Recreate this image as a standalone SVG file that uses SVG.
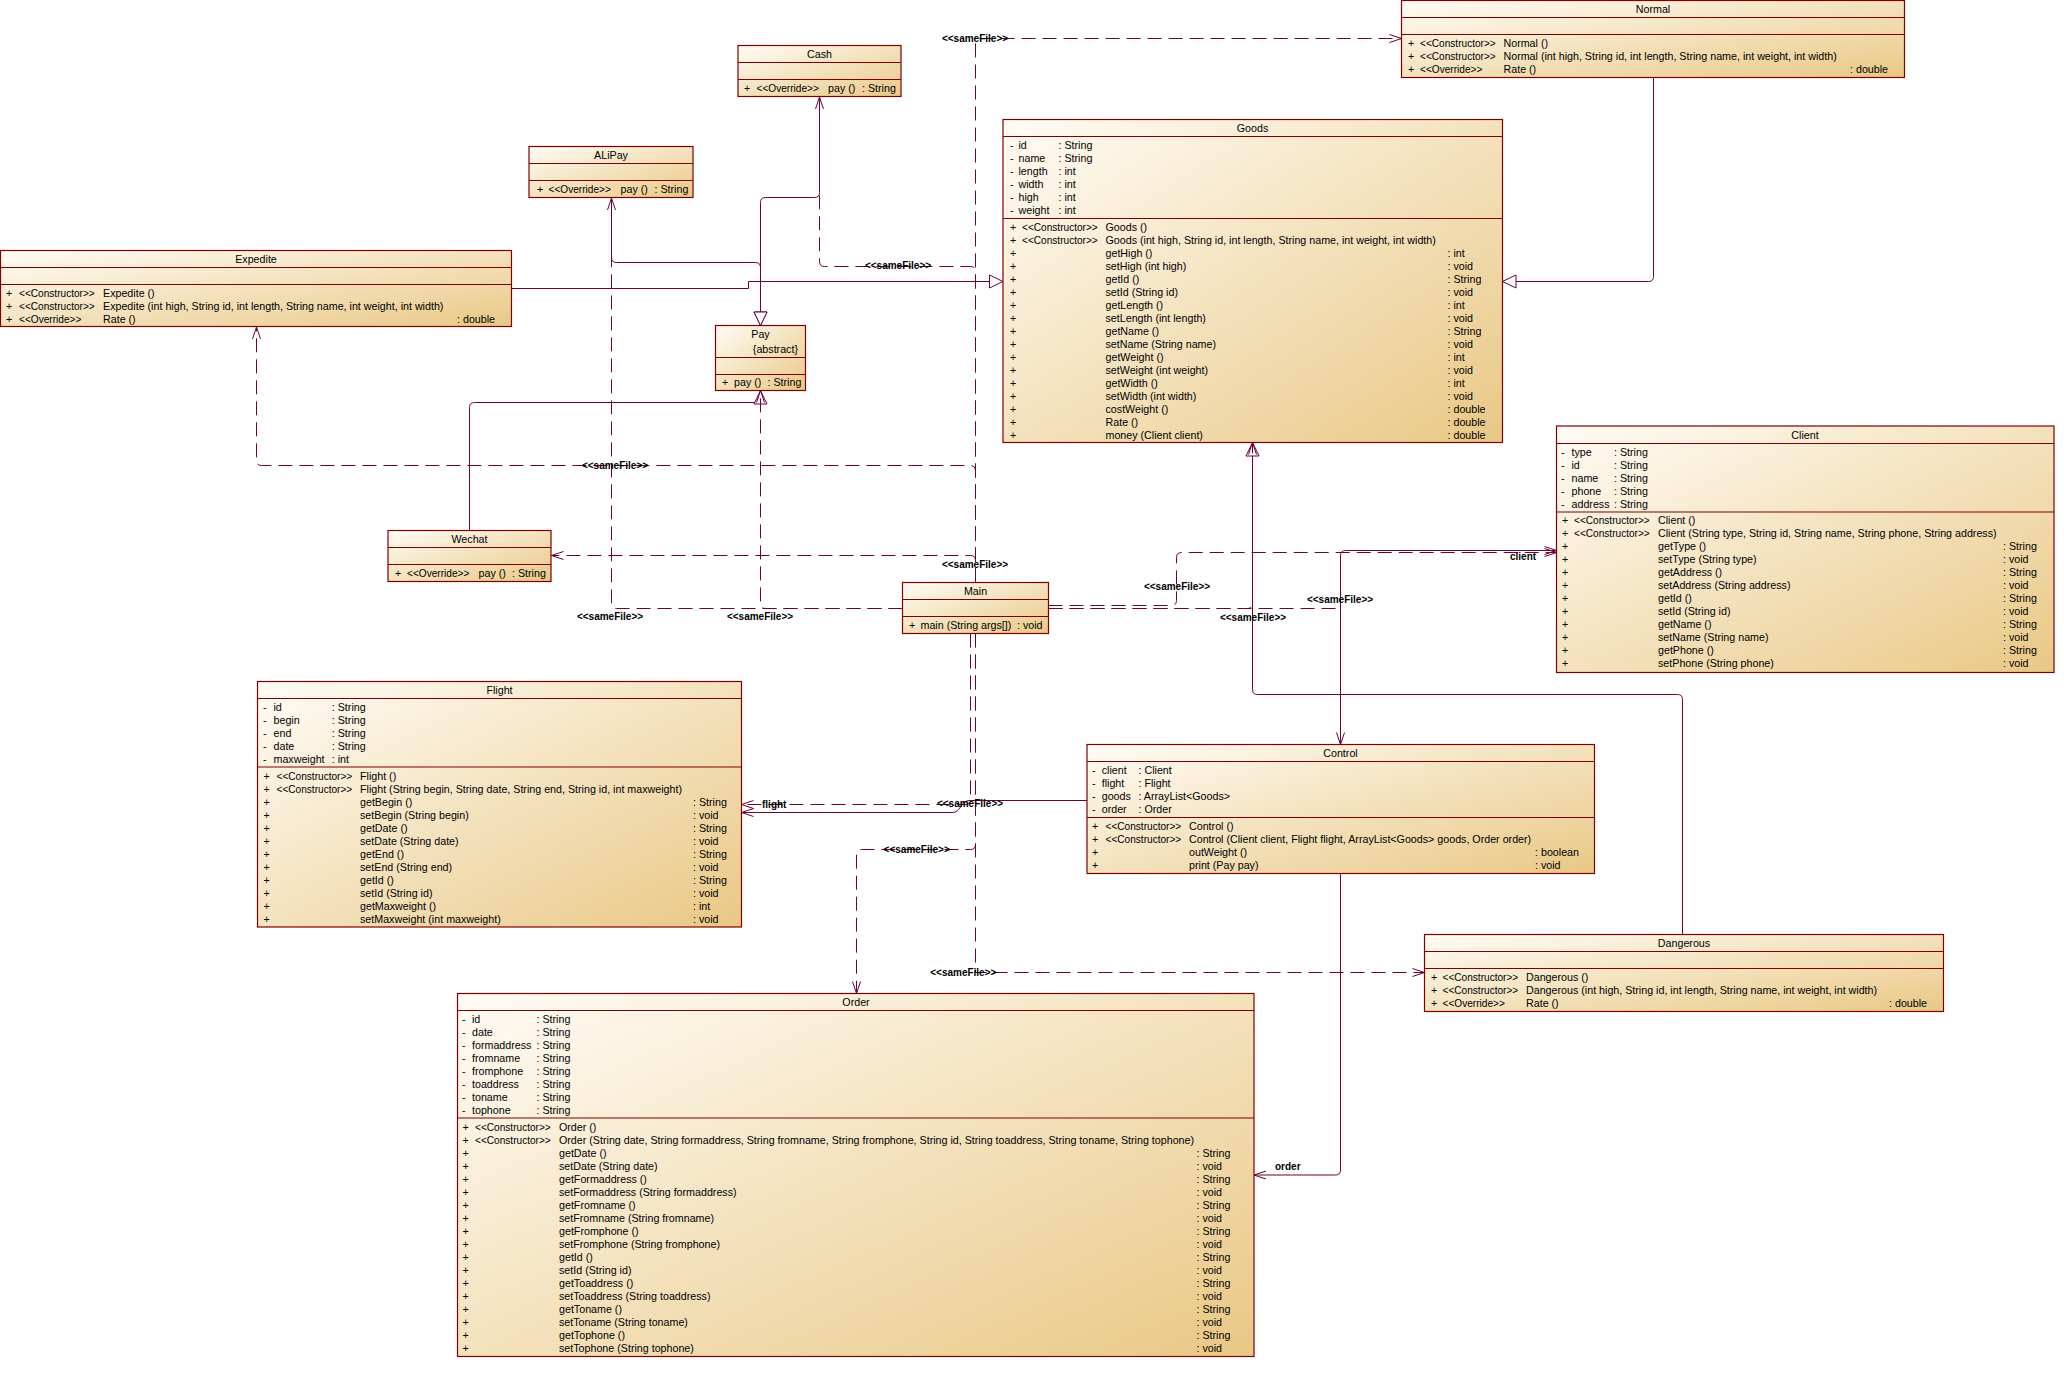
<svg xmlns="http://www.w3.org/2000/svg" width="2064" height="1378" viewBox="0 0 2064 1378">
<defs>
<linearGradient id="g" x1="0" y1="0" x2="1" y2="1"><stop offset="0" stop-color="#FFFCF6"/><stop offset="1" stop-color="#E9C885"/></linearGradient>
<marker id="ar" markerUnits="userSpaceOnUse" markerWidth="20" markerHeight="20" refX="0" refY="0" orient="auto" overflow="visible"><path d="M-12,-4 L0,0 L-12,4" fill="none" stroke="#6E0035" stroke-width="1"/></marker>
<marker id="tri" markerUnits="userSpaceOnUse" markerWidth="20" markerHeight="20" refX="0" refY="0" orient="auto" overflow="visible"><path d="M-13.5,-6.5 L0,0 L-13.5,6.5 Z" fill="#fff" stroke="#6E0035" stroke-width="1"/></marker>
</defs>
<style>
.b{fill:url(#g);stroke:#800000;stroke-width:1.2}
.s{fill:none;stroke:#800000;stroke-width:1.2}
text{font-family:"Liberation Sans",Arial,sans-serif;font-size:10.7px;fill:#000}
.st{font-size:10.1px}
.h{text-anchor:middle}
.e{text-anchor:end}
.l{font-weight:bold;font-size:10px;text-anchor:middle}
.rl{font-weight:bold;font-size:10px}
.c{fill:none;stroke:#6E0035;stroke-width:1}
.d{stroke-dasharray:14 7}
.gen{marker-end:url(#tri)}
.dep{marker-end:url(#ar)}
</style>
<rect width="2064" height="1378" fill="#fff"/>
<g id="connectors">
<path class="c gen" d="M511.5,288.5 H748.5 V281.5 H1003"/>
<path class="c gen" d="M1653.5,77.5 V276.5 Q1653.5,281.5 1648.5,281.5 H1502.5"/>
<path class="c gen" d="M1682.5,934.5 V699.5 Q1682.5,694.5 1677.5,694.5 H1257.5 Q1252.5,694.5 1252.5,689.5 V442.5"/>
<path class="c gen" d="M819.5,97 V192.5 Q819.5,197.5 814.5,197.5 H765.5 Q760.5,197.5 760.5,202.5 V325.5"/>
<path class="c gen" d="M611.5,198 V257.5 Q611.5,262.5 616.5,262.5 H755.5 Q760.5,262.5 760.5,267.5 V325.5"/>
<path class="c gen" d="M469.5,530.5 V407.5 Q469.5,402.5 474.5,402.5 H760.5 V390.5"/>
<path class="c dep" d="M1340.5,744.5 V555.5 Q1340.5,550.5 1345.5,550.5 H1556.5"/>
<path class="c dep" d="M1087,800.5 H970 Q964,800.5 961,806 Q958,812.5 952,812.5 H741.5"/>
<path class="c dep" d="M1340.5,873.5 V1170 Q1340.5,1175 1335.5,1175 H1254"/>
<path class="c d dep" d="M975.5,582.5 V43.5 Q975.5,38.5 980.5,38.5 H1401.5"/>
<path class="c d dep" d="M975.5,582.5 V271.5 Q975.5,266.5 970.5,266.5 H824.5 Q819.5,266.5 819.5,261.5 V97"/>
<path class="c d dep" d="M975.5,582.5 V470.5 Q975.5,465.5 970.5,465.5 H261.5 Q256.5,465.5 256.5,460.5 V327"/>
<path class="c d dep" d="M975.5,582.5 V560.5 Q975.5,555.5 970.5,555.5 H551.5"/>
<path class="c d dep" d="M902.5,608.5 H616.5 Q611.5,608.5 611.5,603.5 V198"/>
<path class="c d dep" d="M902.5,608.5 H765.5 Q760.5,608.5 760.5,603.5 V390.5"/>
<path class="c d dep" d="M1048.5,605.5 H1171.5 Q1176.5,605.5 1176.5,600.5 V557.5 Q1176.5,552.5 1181.5,552.5 H1556.5"/>
<path class="c d dep" d="M1048.5,608.5 H1247.5 Q1252.5,608.5 1252.5,603.5 V442.5"/>
<path class="c d dep" d="M1048.5,608.5 H1335.5 Q1340.5,608.5 1340.5,613.5 V744.5"/>
<path class="c d dep" d="M970.5,633.5 V799.5 Q970.5,804.5 965.5,804.5 H741.5"/>
<path class="c d dep" d="M975.5,633.5 V844.5 Q975.5,849.5 970.5,849.5 H861.5 Q856.5,849.5 856.5,854.5 V993.5"/>
<path class="c d dep" d="M975.5,633.5 V972.5 H1424.5"/>
<text class="l" x="975" y="41.8">&lt;&lt;sameFile&gt;&gt;</text>
<text class="l" x="898" y="269.3">&lt;&lt;sameFile&gt;&gt;</text>
<text class="l" x="615" y="469">&lt;&lt;sameFile&gt;&gt;</text>
<text class="l" x="975" y="568">&lt;&lt;sameFile&gt;&gt;</text>
<text class="l" x="610" y="620">&lt;&lt;sameFile&gt;&gt;</text>
<text class="l" x="760" y="620">&lt;&lt;sameFile&gt;&gt;</text>
<text class="l" x="1177" y="590.3">&lt;&lt;sameFile&gt;&gt;</text>
<text class="l" x="1340" y="602.6">&lt;&lt;sameFile&gt;&gt;</text>
<text class="l" x="1253" y="621">&lt;&lt;sameFile&gt;&gt;</text>
<text class="l" x="970" y="807">&lt;&lt;sameFile&gt;&gt;</text>
<text class="l" x="916.7" y="853">&lt;&lt;sameFile&gt;&gt;</text>
<text class="l" x="963.3" y="976.3">&lt;&lt;sameFile&gt;&gt;</text>
<text class="rl" x="1510" y="560.3">client</text>
<text class="rl" x="762" y="808">flight</text>
<text class="rl" x="1275" y="1170.3">order</text>
</g>
<g id="normal">
<rect class="b" x="1401.5" y="0.5" width="503" height="77"/>
<path class="s" d="M1401.5,17.5H1904.5M1401.5,34.5H1904.5"/>
<text class="h" x="1653" y="12.5">Normal</text>
<text y="46.5"><tspan x="1408">+</tspan><tspan class="st" x="1420">&lt;&lt;Constructor&gt;&gt;</tspan><tspan x="1503.5">Normal ()</tspan></text>
<text y="59.5"><tspan x="1408">+</tspan><tspan class="st" x="1420">&lt;&lt;Constructor&gt;&gt;</tspan><tspan x="1503.5">Normal (int high, String id, int length, String name, int weight, int width)</tspan></text>
<text y="72.5"><tspan x="1408">+</tspan><tspan class="st" x="1420">&lt;&lt;Override&gt;&gt;</tspan><tspan x="1503.5">Rate ()</tspan><tspan x="1850">: double</tspan></text>
</g>
<g id="cash">
<rect class="b" x="738" y="45.5" width="163" height="51"/>
<path class="s" d="M738,62.5H901M738,79.5H901"/>
<text class="h" x="819.5" y="57.8">Cash</text>
<text y="91.8"><tspan x="744">+</tspan><tspan class="st" x="756.5">&lt;&lt;Override&gt;&gt;</tspan><tspan x="828">pay ()</tspan><tspan x="862">: String</tspan></text>
</g>
<g id="alipay">
<rect class="b" x="529" y="146.5" width="164" height="51"/>
<path class="s" d="M529,163.5H693M529,180.5H693"/>
<text class="h" x="611" y="158.8">ALiPay</text>
<text y="192.8"><tspan x="537">+</tspan><tspan class="st" x="548.5">&lt;&lt;Override&gt;&gt;</tspan><tspan x="620.5">pay ()</tspan><tspan x="654.5">: String</tspan></text>
</g>
<g id="expedite">
<rect class="b" x="0.5" y="250.5" width="511" height="76"/>
<path class="s" d="M0.5,267.5H511.5M0.5,284.5H511.5"/>
<text class="h" x="256" y="262.8">Expedite</text>
<text y="296.5"><tspan x="6">+</tspan><tspan class="st" x="19">&lt;&lt;Constructor&gt;&gt;</tspan><tspan x="103">Expedite ()</tspan></text>
<text y="309.5"><tspan x="6">+</tspan><tspan class="st" x="19">&lt;&lt;Constructor&gt;&gt;</tspan><tspan x="103">Expedite (int high, String id, int length, String name, int weight, int width)</tspan></text>
<text y="322.5"><tspan x="6">+</tspan><tspan class="st" x="19">&lt;&lt;Override&gt;&gt;</tspan><tspan x="103">Rate ()</tspan><tspan x="457">: double</tspan></text>
</g>
<g id="pay">
<rect class="b" x="715.5" y="325.5" width="90" height="65"/>
<path class="s" d="M715.5,357.5H805.5M715.5,374.5H805.5"/>
<text class="h" x="760.5" y="337.5">Pay</text>
<text class="e" x="798" y="352.5">{abstract}</text>
<text y="386.3"><tspan x="722">+</tspan><tspan x="734">pay ()</tspan><tspan x="767.5">: String</tspan></text>
</g>
<g id="wechat">
<rect class="b" x="388" y="530.5" width="163" height="51"/>
<path class="s" d="M388,547.5H551M388,564.5H551"/>
<text class="h" x="469.5" y="542.5">Wechat</text>
<text y="576.5"><tspan x="395">+</tspan><tspan class="st" x="407">&lt;&lt;Override&gt;&gt;</tspan><tspan x="478.5">pay ()</tspan><tspan x="512">: String</tspan></text>
</g>
<g id="main">
<rect class="b" x="902.5" y="582.5" width="146" height="51"/>
<path class="s" d="M902.5,599.5H1048.5M902.5,616.5H1048.5"/>
<text class="h" x="975.5" y="594.5">Main</text>
<text y="628.5"><tspan x="909">+</tspan><tspan x="920.5">main (String args[])</tspan><tspan x="1017">: void</tspan></text>
</g>
<g id="goods">
<rect class="b" x="1003" y="119.5" width="499.5" height="323"/>
<path class="s" d="M1003,136.5H1502.5M1003,218.5H1502.5"/>
<text class="h" x="1252.5" y="131.8">Goods</text>
<text y="148.8"><tspan x="1010">-</tspan><tspan x="1018.5">id</tspan><tspan x="1058.5">: String</tspan></text>
<text y="161.8"><tspan x="1010">-</tspan><tspan x="1018.5">name</tspan><tspan x="1058.5">: String</tspan></text>
<text y="174.8"><tspan x="1010">-</tspan><tspan x="1018.5">length</tspan><tspan x="1058.5">: int</tspan></text>
<text y="187.8"><tspan x="1010">-</tspan><tspan x="1018.5">width</tspan><tspan x="1058.5">: int</tspan></text>
<text y="200.8"><tspan x="1010">-</tspan><tspan x="1018.5">high</tspan><tspan x="1058.5">: int</tspan></text>
<text y="213.8"><tspan x="1010">-</tspan><tspan x="1018.5">weight</tspan><tspan x="1058.5">: int</tspan></text>
<text y="230.5"><tspan x="1010">+</tspan><tspan class="st" x="1022">&lt;&lt;Constructor&gt;&gt;</tspan><tspan x="1105.5">Goods ()</tspan></text>
<text y="243.5"><tspan x="1010">+</tspan><tspan class="st" x="1022">&lt;&lt;Constructor&gt;&gt;</tspan><tspan x="1105.5">Goods (int high, String id, int length, String name, int weight, int width)</tspan></text>
<text y="256.5"><tspan x="1010">+</tspan><tspan x="1105.5">getHigh ()</tspan><tspan x="1447.5">: int</tspan></text>
<text y="269.5"><tspan x="1010">+</tspan><tspan x="1105.5">setHigh (int high)</tspan><tspan x="1447.5">: void</tspan></text>
<text y="282.5"><tspan x="1010">+</tspan><tspan x="1105.5">getId ()</tspan><tspan x="1447.5">: String</tspan></text>
<text y="295.5"><tspan x="1010">+</tspan><tspan x="1105.5">setId (String id)</tspan><tspan x="1447.5">: void</tspan></text>
<text y="308.5"><tspan x="1010">+</tspan><tspan x="1105.5">getLength ()</tspan><tspan x="1447.5">: int</tspan></text>
<text y="321.5"><tspan x="1010">+</tspan><tspan x="1105.5">setLength (int length)</tspan><tspan x="1447.5">: void</tspan></text>
<text y="334.5"><tspan x="1010">+</tspan><tspan x="1105.5">getName ()</tspan><tspan x="1447.5">: String</tspan></text>
<text y="347.5"><tspan x="1010">+</tspan><tspan x="1105.5">setName (String name)</tspan><tspan x="1447.5">: void</tspan></text>
<text y="360.5"><tspan x="1010">+</tspan><tspan x="1105.5">getWeight ()</tspan><tspan x="1447.5">: int</tspan></text>
<text y="373.5"><tspan x="1010">+</tspan><tspan x="1105.5">setWeight (int weight)</tspan><tspan x="1447.5">: void</tspan></text>
<text y="386.5"><tspan x="1010">+</tspan><tspan x="1105.5">getWidth ()</tspan><tspan x="1447.5">: int</tspan></text>
<text y="399.5"><tspan x="1010">+</tspan><tspan x="1105.5">setWidth (int width)</tspan><tspan x="1447.5">: void</tspan></text>
<text y="412.5"><tspan x="1010">+</tspan><tspan x="1105.5">costWeight ()</tspan><tspan x="1447.5">: double</tspan></text>
<text y="425.5"><tspan x="1010">+</tspan><tspan x="1105.5">Rate ()</tspan><tspan x="1447.5">: double</tspan></text>
<text y="438.5"><tspan x="1010">+</tspan><tspan x="1105.5">money (Client client)</tspan><tspan x="1447.5">: double</tspan></text>
</g>
<g id="client">
<rect class="b" x="1556.5" y="426" width="497.5" height="246.5"/>
<path class="s" d="M1556.5,443.5H2054M1556.5,512H2054"/>
<text class="h" x="1805" y="438.5">Client</text>
<text y="455.6"><tspan x="1561">-</tspan><tspan x="1571.5">type</tspan><tspan x="1614">: String</tspan></text>
<text y="468.6"><tspan x="1561">-</tspan><tspan x="1571.5">id</tspan><tspan x="1614">: String</tspan></text>
<text y="481.6"><tspan x="1561">-</tspan><tspan x="1571.5">name</tspan><tspan x="1614">: String</tspan></text>
<text y="494.6"><tspan x="1561">-</tspan><tspan x="1571.5">phone</tspan><tspan x="1614">: String</tspan></text>
<text y="507.6"><tspan x="1561">-</tspan><tspan x="1571.5">address</tspan><tspan x="1614">: String</tspan></text>
<text y="524.4"><tspan x="1562">+</tspan><tspan class="st" x="1574">&lt;&lt;Constructor&gt;&gt;</tspan><tspan x="1658">Client ()</tspan></text>
<text y="537.4"><tspan x="1562">+</tspan><tspan class="st" x="1574">&lt;&lt;Constructor&gt;&gt;</tspan><tspan x="1658">Client (String type, String id, String name, String phone, String address)</tspan></text>
<text y="550.4"><tspan x="1562">+</tspan><tspan x="1658">getType ()</tspan><tspan x="2003">: String</tspan></text>
<text y="563.4"><tspan x="1562">+</tspan><tspan x="1658">setType (String type)</tspan><tspan x="2003">: void</tspan></text>
<text y="576.4"><tspan x="1562">+</tspan><tspan x="1658">getAddress ()</tspan><tspan x="2003">: String</tspan></text>
<text y="589.4"><tspan x="1562">+</tspan><tspan x="1658">setAddress (String address)</tspan><tspan x="2003">: void</tspan></text>
<text y="602.4"><tspan x="1562">+</tspan><tspan x="1658">getId ()</tspan><tspan x="2003">: String</tspan></text>
<text y="615.4"><tspan x="1562">+</tspan><tspan x="1658">setId (String id)</tspan><tspan x="2003">: void</tspan></text>
<text y="628.4"><tspan x="1562">+</tspan><tspan x="1658">getName ()</tspan><tspan x="2003">: String</tspan></text>
<text y="641.4"><tspan x="1562">+</tspan><tspan x="1658">setName (String name)</tspan><tspan x="2003">: void</tspan></text>
<text y="654.4"><tspan x="1562">+</tspan><tspan x="1658">getPhone ()</tspan><tspan x="2003">: String</tspan></text>
<text y="667.4"><tspan x="1562">+</tspan><tspan x="1658">setPhone (String phone)</tspan><tspan x="2003">: void</tspan></text>
</g>
<g id="control">
<rect class="b" x="1087" y="744.5" width="507.5" height="129"/>
<path class="s" d="M1087,761.5H1594.5M1087,817.5H1594.5"/>
<text class="h" x="1340.5" y="756.5">Control</text>
<text y="773.6"><tspan x="1092">-</tspan><tspan x="1101.7">client</tspan><tspan x="1138.5">: Client</tspan></text>
<text y="786.6"><tspan x="1092">-</tspan><tspan x="1101.7">flight</tspan><tspan x="1138.5">: Flight</tspan></text>
<text y="799.6"><tspan x="1092">-</tspan><tspan x="1101.7">goods</tspan><tspan x="1138.5">: ArrayList&lt;Goods&gt;</tspan></text>
<text y="812.6"><tspan x="1092">-</tspan><tspan x="1101.7">order</tspan><tspan x="1138.5">: Order</tspan></text>
<text y="829.5"><tspan x="1092">+</tspan><tspan class="st" x="1105.5">&lt;&lt;Constructor&gt;&gt;</tspan><tspan x="1189">Control ()</tspan></text>
<text y="842.5"><tspan x="1092">+</tspan><tspan class="st" x="1105.5">&lt;&lt;Constructor&gt;&gt;</tspan><tspan x="1189">Control (Client client, Flight flight, ArrayList&lt;Goods&gt; goods, Order order)</tspan></text>
<text y="855.5"><tspan x="1092">+</tspan><tspan x="1189">outWeight ()</tspan><tspan x="1535">: boolean</tspan></text>
<text y="868.5"><tspan x="1092">+</tspan><tspan x="1189">print (Pay pay)</tspan><tspan x="1535">: void</tspan></text>
</g>
<g id="flight">
<rect class="b" x="257.5" y="681.5" width="484" height="245.5"/>
<path class="s" d="M257.5,698.5H741.5M257.5,767H741.5"/>
<text class="h" x="499.5" y="693.5">Flight</text>
<text y="710.6"><tspan x="263">-</tspan><tspan x="273.5">id</tspan><tspan x="331.8">: String</tspan></text>
<text y="723.6"><tspan x="263">-</tspan><tspan x="273.5">begin</tspan><tspan x="331.8">: String</tspan></text>
<text y="736.6"><tspan x="263">-</tspan><tspan x="273.5">end</tspan><tspan x="331.8">: String</tspan></text>
<text y="749.6"><tspan x="263">-</tspan><tspan x="273.5">date</tspan><tspan x="331.8">: String</tspan></text>
<text y="762.6"><tspan x="263">-</tspan><tspan x="273.5">maxweight</tspan><tspan x="331.8">: int</tspan></text>
<text y="779.5"><tspan x="263.5">+</tspan><tspan class="st" x="276.5">&lt;&lt;Constructor&gt;&gt;</tspan><tspan x="360">Flight ()</tspan></text>
<text y="792.5"><tspan x="263.5">+</tspan><tspan class="st" x="276.5">&lt;&lt;Constructor&gt;&gt;</tspan><tspan x="360">Flight (String begin, String date, String end, String id, int maxweight)</tspan></text>
<text y="805.5"><tspan x="263.5">+</tspan><tspan x="360">getBegin ()</tspan><tspan x="693">: String</tspan></text>
<text y="818.5"><tspan x="263.5">+</tspan><tspan x="360">setBegin (String begin)</tspan><tspan x="693">: void</tspan></text>
<text y="831.5"><tspan x="263.5">+</tspan><tspan x="360">getDate ()</tspan><tspan x="693">: String</tspan></text>
<text y="844.5"><tspan x="263.5">+</tspan><tspan x="360">setDate (String date)</tspan><tspan x="693">: void</tspan></text>
<text y="857.5"><tspan x="263.5">+</tspan><tspan x="360">getEnd ()</tspan><tspan x="693">: String</tspan></text>
<text y="870.5"><tspan x="263.5">+</tspan><tspan x="360">setEnd (String end)</tspan><tspan x="693">: void</tspan></text>
<text y="883.5"><tspan x="263.5">+</tspan><tspan x="360">getId ()</tspan><tspan x="693">: String</tspan></text>
<text y="896.5"><tspan x="263.5">+</tspan><tspan x="360">setId (String id)</tspan><tspan x="693">: void</tspan></text>
<text y="909.5"><tspan x="263.5">+</tspan><tspan x="360">getMaxweight ()</tspan><tspan x="693">: int</tspan></text>
<text y="922.5"><tspan x="263.5">+</tspan><tspan x="360">setMaxweight (int maxweight)</tspan><tspan x="693">: void</tspan></text>
</g>
<g id="dangerous">
<rect class="b" x="1424.5" y="934.5" width="519" height="77"/>
<path class="s" d="M1424.5,951.5H1943.5M1424.5,968.5H1943.5"/>
<text class="h" x="1684" y="946.5">Dangerous</text>
<text y="980.6"><tspan x="1431">+</tspan><tspan class="st" x="1442.5">&lt;&lt;Constructor&gt;&gt;</tspan><tspan x="1526">Dangerous ()</tspan></text>
<text y="993.6"><tspan x="1431">+</tspan><tspan class="st" x="1442.5">&lt;&lt;Constructor&gt;&gt;</tspan><tspan x="1526">Dangerous (int high, String id, int length, String name, int weight, int width)</tspan></text>
<text y="1006.6"><tspan x="1431">+</tspan><tspan class="st" x="1442.5">&lt;&lt;Override&gt;&gt;</tspan><tspan x="1526">Rate ()</tspan><tspan x="1889">: double</tspan></text>
</g>
<g id="order">
<rect class="b" x="457.5" y="993.5" width="796.5" height="363"/>
<path class="s" d="M457.5,1010.5H1254M457.5,1118H1254"/>
<text class="h" x="856" y="1005.5">Order</text>
<text y="1022.8"><tspan x="462">-</tspan><tspan x="472">id</tspan><tspan x="536.5">: String</tspan></text>
<text y="1035.8"><tspan x="462">-</tspan><tspan x="472">date</tspan><tspan x="536.5">: String</tspan></text>
<text y="1048.8"><tspan x="462">-</tspan><tspan x="472">formaddress</tspan><tspan x="536.5">: String</tspan></text>
<text y="1061.8"><tspan x="462">-</tspan><tspan x="472">fromname</tspan><tspan x="536.5">: String</tspan></text>
<text y="1074.8"><tspan x="462">-</tspan><tspan x="472">fromphone</tspan><tspan x="536.5">: String</tspan></text>
<text y="1087.8"><tspan x="462">-</tspan><tspan x="472">toaddress</tspan><tspan x="536.5">: String</tspan></text>
<text y="1100.8"><tspan x="462">-</tspan><tspan x="472">toname</tspan><tspan x="536.5">: String</tspan></text>
<text y="1113.8"><tspan x="462">-</tspan><tspan x="472">tophone</tspan><tspan x="536.5">: String</tspan></text>
<text y="1130.5"><tspan x="462.5">+</tspan><tspan class="st" x="475">&lt;&lt;Constructor&gt;&gt;</tspan><tspan x="559">Order ()</tspan></text>
<text y="1143.5"><tspan x="462.5">+</tspan><tspan class="st" x="475">&lt;&lt;Constructor&gt;&gt;</tspan><tspan x="559">Order (String date, String formaddress, String fromname, String fromphone, String id, String toaddress, String toname, String tophone)</tspan></text>
<text y="1156.5"><tspan x="462.5">+</tspan><tspan x="559">getDate ()</tspan><tspan x="1196.5">: String</tspan></text>
<text y="1169.5"><tspan x="462.5">+</tspan><tspan x="559">setDate (String date)</tspan><tspan x="1196.5">: void</tspan></text>
<text y="1182.5"><tspan x="462.5">+</tspan><tspan x="559">getFormaddress ()</tspan><tspan x="1196.5">: String</tspan></text>
<text y="1195.5"><tspan x="462.5">+</tspan><tspan x="559">setFormaddress (String formaddress)</tspan><tspan x="1196.5">: void</tspan></text>
<text y="1208.5"><tspan x="462.5">+</tspan><tspan x="559">getFromname ()</tspan><tspan x="1196.5">: String</tspan></text>
<text y="1221.5"><tspan x="462.5">+</tspan><tspan x="559">setFromname (String fromname)</tspan><tspan x="1196.5">: void</tspan></text>
<text y="1234.5"><tspan x="462.5">+</tspan><tspan x="559">getFromphone ()</tspan><tspan x="1196.5">: String</tspan></text>
<text y="1247.5"><tspan x="462.5">+</tspan><tspan x="559">setFromphone (String fromphone)</tspan><tspan x="1196.5">: void</tspan></text>
<text y="1260.5"><tspan x="462.5">+</tspan><tspan x="559">getId ()</tspan><tspan x="1196.5">: String</tspan></text>
<text y="1273.5"><tspan x="462.5">+</tspan><tspan x="559">setId (String id)</tspan><tspan x="1196.5">: void</tspan></text>
<text y="1286.5"><tspan x="462.5">+</tspan><tspan x="559">getToaddress ()</tspan><tspan x="1196.5">: String</tspan></text>
<text y="1299.5"><tspan x="462.5">+</tspan><tspan x="559">setToaddress (String toaddress)</tspan><tspan x="1196.5">: void</tspan></text>
<text y="1312.5"><tspan x="462.5">+</tspan><tspan x="559">getToname ()</tspan><tspan x="1196.5">: String</tspan></text>
<text y="1325.5"><tspan x="462.5">+</tspan><tspan x="559">setToname (String toname)</tspan><tspan x="1196.5">: void</tspan></text>
<text y="1338.5"><tspan x="462.5">+</tspan><tspan x="559">getTophone ()</tspan><tspan x="1196.5">: String</tspan></text>
<text y="1351.5"><tspan x="462.5">+</tspan><tspan x="559">setTophone (String tophone)</tspan><tspan x="1196.5">: void</tspan></text>
</g>
</svg>
